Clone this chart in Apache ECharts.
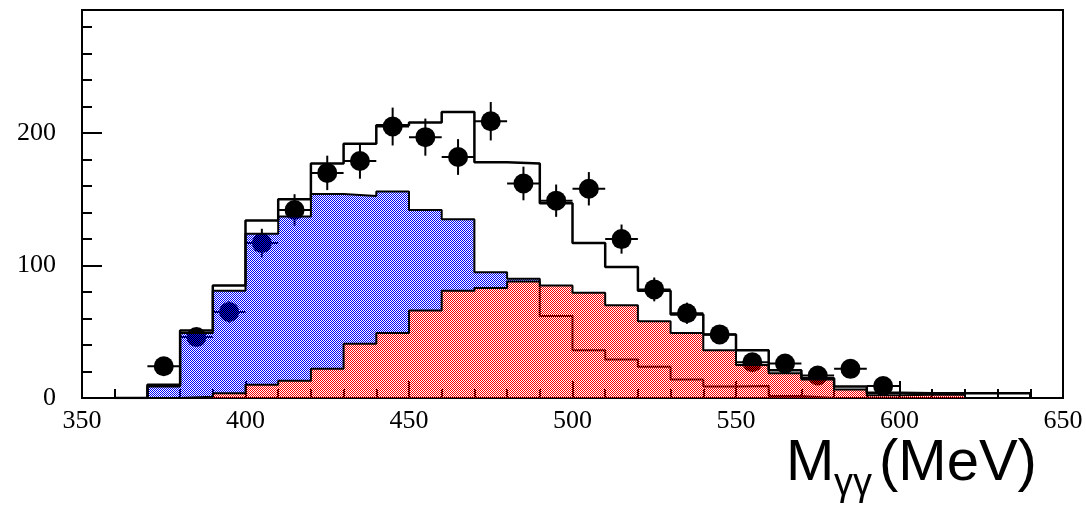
<!DOCTYPE html>
<html>
<head>
<meta charset="utf-8">
<script src="https://cdn.jsdelivr.net/npm/echarts@6/dist/echarts.min.js"></script>
<style>
  html, body { margin: 0; padding: 0; background: #fff; }
  #chart { width: 1086px; height: 505px; }
</style>
</head>
<body>
<div id="chart"></div>
<script>
// invariant mass spectrum, 10 MeV bins from 360 to 640
const binEdges = [360, 370, 380, 390, 400, 410, 420, 430, 440, 450, 460, 470, 480, 490, 500,
  510, 520, 530, 540, 550, 560, 570, 580, 590, 600, 610, 620, 630, 640];

// sum of all simulated contributions (open black histogram)
const totalMC = [0, 10, 51, 85, 134, 150, 177, 192, 206, 208, 216, 178, 177, 147, 117,
  99, 81, 63, 48, 36, 21, 15, 8.6, 4, 3.5, 3.5, 3.5, 3.5];
// blue filled component
const blueMC = [0, 8.6, 49, 81, 124, 137, 154, 152.5, 156, 142, 135, 95, 90, 62, 36,
  29, 23.6, 14, 8.6, 9, 1.5, 0, 0, 0, 0, 0, 0, 0];
// red filled component
const redMC = [0, 0, 1, 3.5, 10, 13, 22, 41, 49, 66, 81, 83, 88, 85, 79.5,
  70, 58, 49, 36, 25, 18.6, 14, 6.5, 2, 2.5, 2.5, 0, 0];

// data points (bin centres), counts and statistical errors
const dataX = [375, 385, 395, 405, 415, 425, 435, 445, 455, 465, 475, 485, 495, 505,
  515, 525, 535, 545, 555, 565, 575, 585, 595];
const dataY = [24, 46, 65, 117, 142, 170, 179, 205, 197, 182, 209, 162, 149, 158,
  120, 82, 64, 48, 27, 26, 17, 22, 9];
const dataErr = [4.9, 6.8, 8.1, 10.8, 11.9, 13, 13.4, 14.3, 14, 13.5, 14.5, 12.7, 12.2, 12.6,
  11, 9, 8, 6.9, 5.2, 5.1, 4.1, 4.7, 3];
const binHalf = 5;

const yTicksMajor = 100;
const yTicksMinor = 20;

// checkerboard fill: coloured and transparent pixels, like the ROOT hatch style
const checker = (color) => {
  const c = document.createElement('canvas');
  c.width = 2;
  c.height = 2;
  const g = c.getContext('2d');
  g.fillStyle = color;
  g.fillRect(0, 0, 1, 1);
  g.fillRect(1, 1, 1, 1);
  return { image: c, repeat: 'repeat' };
};

const histo = (vals) =>
  vals.map((v, i) => [binEdges[i], v]).concat([[binEdges[vals.length], 0]]);

const tickStyle = { color: '#000', width: 2 };
const labelFont = { color: '#000', fontFamily: 'Liberation Serif', fontSize: 26 };

const chart = echarts.init(document.getElementById('chart'), null, { renderer: 'canvas' });

chart.setOption({
  animation: false,
  backgroundColor: '#fff',
  grid: {
    left: 82, right: 23, top: 10, bottom: 107,
    show: true, borderColor: '#000', borderWidth: 2,
    containLabel: false, outerBoundsMode: 'none',
  },
  xAxis: [
    {
      type: 'value', min: 350, max: 650, interval: 50, position: 'bottom',
      axisLine: { show: false },
      axisTick: { show: true, inside: true, length: 17, lineStyle: tickStyle },
      axisLabel: { margin: 10, ...labelFont },
      splitLine: { show: false },
    },
    {
      type: 'value', min: 350, max: 650, interval: 10, position: 'bottom',
      axisLine: { show: false },
      axisTick: { show: true, inside: true, length: 9, lineStyle: tickStyle },
      axisLabel: { show: false },
      splitLine: { show: false },
    },
  ],
  yAxis: [
    {
      type: 'value', min: 0, max: 293, interval: yTicksMajor, position: 'left',
      axisLine: { show: false },
      axisTick: { show: true, inside: true, length: 20, lineStyle: tickStyle },
      axisLabel: { margin: 26, showMaxLabel: false, ...labelFont },
      splitLine: { show: false },
    },
    {
      type: 'value', min: 0, max: 293, interval: yTicksMinor, position: 'left',
      axisLine: { show: false },
      axisTick: { show: true, inside: true, length: 10, lineStyle: tickStyle },
      axisLabel: { show: false },
      splitLine: { show: false },
    },
  ],
  series: [
    {
      type: 'custom',
      silent: true,
      z: 2,
      data: dataX.map((x, i) => [x, dataY[i], dataErr[i]]),
      renderItem: (params, api) => {
        const x = api.value(0), y = api.value(1), e = api.value(2);
        const top = api.coord([x, y + e]);
        const bot = api.coord([x, y - e]);
        const l = api.coord([x - binHalf, y]);
        const r = api.coord([x + binHalf, y]);
        const st = { stroke: '#000', lineWidth: 2 };
        return {
          type: 'group',
          children: [
            { type: 'line', shape: { x1: top[0], y1: top[1], x2: bot[0], y2: bot[1] }, style: st },
            { type: 'line', shape: { x1: l[0], y1: l[1], x2: r[0], y2: r[1] }, style: st },
          ],
        };
      },
    },
    {
      type: 'scatter',
      silent: true,
      z: 2,
      symbol: 'circle',
      symbolSize: 20,
      itemStyle: { color: '#000', opacity: 1 },
      data: dataX.map((x, i) => [x, dataY[i]]),
    },
    {
      type: 'line',
      silent: true,
      z: 3,
      step: 'end',
      showSymbol: false,
      lineStyle: { color: '#000', width: 2 },
      areaStyle: { color: checker('#0000ff'), opacity: 1 },
      data: histo(blueMC),
    },
    {
      type: 'line',
      silent: true,
      z: 4,
      step: 'end',
      showSymbol: false,
      lineStyle: { color: '#000', width: 2 },
      areaStyle: { color: checker('#ff0000'), opacity: 1 },
      data: histo(redMC),
    },
    {
      type: 'line',
      silent: true,
      z: 5,
      step: 'end',
      showSymbol: false,
      lineStyle: { color: '#000', width: 2.5 },
      data: histo(totalMC),
    },
  ],
  graphic: [
    {
      type: 'text', x: 786, y: 464, silent: true,
      style: { text: 'M', fill: '#000', font: '58px "Liberation Sans"', textAlign: 'left', textVerticalAlign: 'middle' },
    },
    {
      type: 'text', x: 834, y: 485, silent: true,
      style: { text: 'γγ', fill: '#000', font: '38px "Liberation Sans"', textAlign: 'left', textVerticalAlign: 'middle' },
    },
    {
      type: 'text', x: 879, y: 464, silent: true,
      style: { text: '(MeV)', fill: '#000', font: '58px "Liberation Sans"', textAlign: 'left', textVerticalAlign: 'middle' },
    },
  ],
});
</script>
</body>
</html>
